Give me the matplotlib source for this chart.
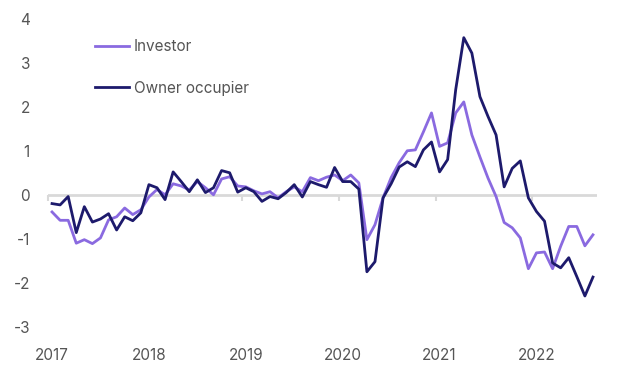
import numpy as np
import pandas as pd
import matplotlib
matplotlib.use("Agg")
import matplotlib.pyplot as plt
import matplotlib.transforms as mtransforms

# monthly series, Jan 2017 - Aug 2022
months = pd.date_range("2017-01-01", "2022-08-01", freq="MS")

investor = [
    -0.39, -0.58, -0.58, -1.10, -1.02, -1.11, -0.98, -0.57, -0.50, -0.30, -0.45, -0.34,
    -0.05, 0.12, 0.00, 0.25, 0.20, 0.11, 0.30, 0.16, 0.00, 0.36, 0.41, 0.20,
    0.18, 0.09, 0.02, 0.07, -0.07, 0.07, 0.18, 0.07, 0.39, 0.32, 0.40, 0.45,
    0.32, 0.45, 0.27, -1.02, -0.68, -0.07, 0.39, 0.73, 1.00, 1.02, 1.43, 1.86,
    1.10, 1.18, 1.86, 2.11, 1.36, 0.86, 0.38, -0.04, -0.63, -0.75, -0.98, -1.68,
    -1.32, -1.30, -1.68, -1.17, -0.72, -0.72, -1.16, -0.91,
]
owner_occupier = [
    -0.20, -0.23, -0.04, -0.86, -0.27, -0.62, -0.55, -0.43, -0.80, -0.50, -0.59, -0.41,
    0.23, 0.16, -0.11, 0.52, 0.30, 0.07, 0.34, 0.05, 0.16, 0.55, 0.50, 0.06,
    0.16, 0.07, -0.15, -0.04, -0.09, 0.05, 0.23, -0.05, 0.30, 0.23, 0.17, 0.62,
    0.30, 0.30, 0.13, -1.75, -1.52, -0.07, 0.25, 0.63, 0.75, 0.64, 1.02, 1.20,
    0.52, 0.80, 2.39, 3.57, 3.22, 2.23, 1.78, 1.36, 0.18, 0.60, 0.77, -0.07,
    -0.38, -0.60, -1.55, -1.66, -1.43, -1.86, -2.30, -1.87,
]
years = [2017, 2018, 2019, 2020, 2021, 2022]
y_ticks = [-3, -2, -1, 0, 1, 2, 3, 4]

plt.rcParams['font.family'] = ['Inter', 'DejaVu Sans']
TEXT = "#555555"
LIGHT = "#8a6ae0"
DARK = "#1d1a6c"

fig = plt.figure(figsize=(6.23, 3.81), dpi=100)
ax = fig.add_axes([48 / 623, 1 - 340 / 381, (597 - 48) / 623, (340 - 17) / 381])

# months as index positions, points at mid-month
x = np.arange(len(months)) + 0.5
ymin, ymax = -3.3, 4.04

ax.axhline(0, color="#d9d9d9", lw=2, zorder=1)
ax.plot(x, investor, color=LIGHT, lw=2.0, label="Investor", zorder=3)
ax.plot(x, owner_occupier, color=DARK, lw=2.0, label="Owner occupier", zorder=4)

ax.set_xlim(0, len(months))
ax.set_ylim(ymin, ymax)

year_pos = [(y - 2017) * 12 for y in years]
ax.set_xticks(year_pos)
ax.set_xticklabels([str(y) for y in years])
ax.set_yticks(y_ticks)
ax.set_yticklabels([str(v) for v in y_ticks])
ax.tick_params(axis="x", length=0, pad=6, labelsize=11, labelcolor=TEXT)
ax.tick_params(axis="y", length=0, pad=13, labelsize=11, labelcolor=TEXT)
for s in ax.spines.values():
    s.set_visible(False)

# year labels sit a little right of the tick
shift = mtransforms.ScaledTranslation(4 / 100, 0, fig.dpi_scale_trans)
for lbl in ax.get_xticklabels():
    lbl.set_transform(lbl.get_transform() + shift)

# small tick marks sitting on the zero line
zero_frac = (0 - ymin) / (ymax - ymin)
sec = ax.secondary_xaxis(zero_frac)
sec.set_xticks(year_pos)
sec.set_xticklabels([])
sec.tick_params(axis="x", direction="out", length=4, width=1.5, color="#d9d9d9")
sec.spines["bottom"].set_visible(False)

leg = fig.legend(loc="upper left", bbox_to_anchor=(95 / 623, 1 - 39 / 381),
                 frameon=False, fontsize=11, handlelength=2.2, handletextpad=0.35,
                 labelspacing=1.75, borderpad=0, borderaxespad=0)
for t in leg.get_texts():
    t.set_color(TEXT)

fig.savefig("out.png", dpi=100)
